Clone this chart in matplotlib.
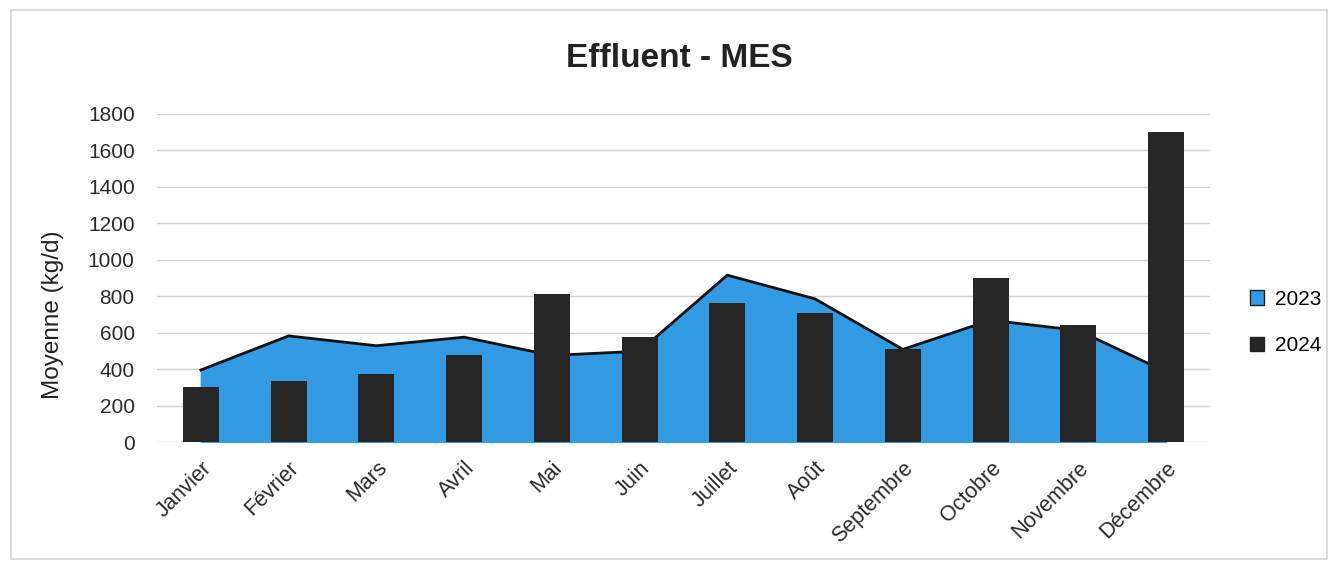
import matplotlib.pyplot as plt
from matplotlib.patches import Rectangle
import numpy as np

plt.rcParams['font.family'] = ['Liberation Sans', 'DejaVu Sans']

months = ['Janvier', 'Février', 'Mars', 'Avril', 'Mai', 'Juin', 'Juillet',
          'Août', 'Septembre', 'Octobre', 'Novembre', 'Décembre']
mes_2023 = [395, 582, 528, 575, 475, 498, 915, 785, 508, 668, 612, 385]
mes_2024 = [303, 334, 375, 475, 812, 578, 765, 710, 510, 897, 640, 1700]
yticks = [0, 200, 400, 600, 800, 1000, 1200, 1400, 1600, 1800]

blue = '#339be3'
dark = '#262626'

fig = plt.figure(figsize=(13.38, 5.66), dpi=100)
fig.patches.append(Rectangle((0.008, 0.012), 0.984, 0.97, transform=fig.transFigure,
                             fill=False, edgecolor='#d4d4d4', linewidth=1.2))

ax = fig.add_axes([0.1173, 0.219, 0.787, 0.58])
x = np.arange(len(months))

# 2023 en aire, 2024 en barres
ax.fill_between(x, mes_2023, color=blue, zorder=2, label='2023')
ax.plot(x, mes_2023, color='#111111', linewidth=2, zorder=3)
ax.bar(x, mes_2024, width=0.41, color=dark, zorder=4, label='2024')

ax.set_xlim(-0.5, len(months) - 0.5)
ax.set_ylim(0, 1800)
ax.set_yticks(yticks)
ax.tick_params(axis='y', length=0, labelsize=15, pad=16, colors='#2a2a2a')
ax.tick_params(axis='x', length=0, labelsize=15.5, pad=11, colors='#2a2a2a')
ax.set_xticks(x)
ax.set_xticklabels(months, rotation=45, ha='right', rotation_mode='anchor')
ax.grid(axis='y', color='#d0d0d0', linewidth=1, zorder=0)
for s in ax.spines.values():
    s.set_visible(False)

fig.text(53 / 1338, 1 - 315 / 566, 'Moyenne (kg/d)', rotation=90, ha='center',
         va='center', fontsize=17.5, color='#222222')
fig.text(0.508, 0.8975, 'Effluent - MES', ha='center', va='center',
         fontsize=24, fontweight='bold', color='#222222')

handles = [Rectangle((0, 0), 1, 1, facecolor=blue, edgecolor='#222222', linewidth=1),
           Rectangle((0, 0), 1, 1, facecolor=dark, edgecolor='#222222', linewidth=1)]
fig.legend(handles, ['2023', '2024'], loc='center left', bbox_to_anchor=(0.934, 0.43),
           frameon=False, fontsize=15, handlelength=0.7, handleheight=0.7,
           handletextpad=0.5, labelspacing=1.3, borderpad=0, borderaxespad=0)

fig.savefig('out.png', dpi=100)
